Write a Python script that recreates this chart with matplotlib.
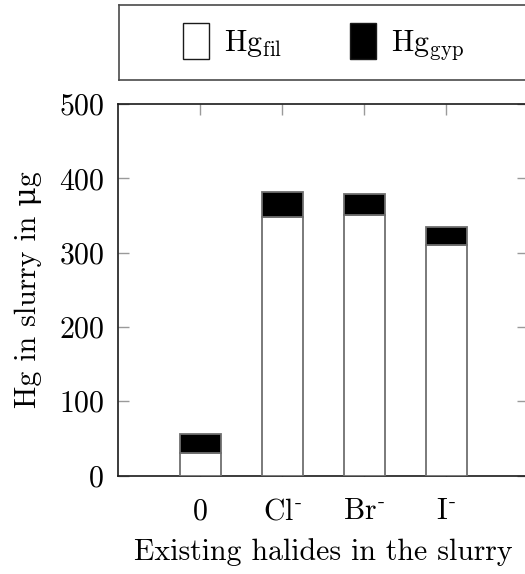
import matplotlib
matplotlib.use("Agg")
import matplotlib.pyplot as plt
from matplotlib.patches import Patch

plt.rcParams["font.family"] = ["cmr10", "DejaVu Serif"]
plt.rcParams["mathtext.fontset"] = "cm"
plt.rcParams["axes.unicode_minus"] = False
plt.rcParams["axes.formatter.use_mathtext"] = True

# Halide categories and mercury amounts (µg)
categories = ["0", r"Cl$^{\text{-}}$", r"Br$^{\text{-}}$", r"I$^{\text{-}}$"]
hg_fil = [30, 348, 351, 310]
hg_gyp = [26, 34, 28, 25]
y_ticks = [0, 100, 200, 300, 400, 500]

FS = 21.5
W, H = 525, 574
fig = plt.figure(figsize=(W / 100, H / 100), dpi=100)

def frac(x0, y0, x1, y1):
    return [x0 / W, 1 - y1 / H, (x1 - x0) / W, (y1 - y0) / H]

ax = fig.add_axes(frac(118, 104, 528, 475.5))
x = list(range(len(categories)))
edge = "#6f6f6f"
ax.bar(x, hg_fil, width=0.5, color="white", edgecolor=edge, linewidth=1.3, zorder=3)
ax.bar(x, hg_gyp, width=0.5, bottom=hg_fil, color="black", edgecolor=edge,
       linewidth=1.3, zorder=3)

ax.set_xlim(-1, 4)
ax.set_ylim(0, 500)
ax.set_yticks(y_ticks)
ax.set_xticks(x)
ax.set_xticklabels(categories)
for s in ax.spines.values():
    s.set_linewidth(1.2)
    s.set_color("#1a1a1a")
ax.tick_params(axis="both", direction="in", length=8, width=1.0, color="#9a9a9a",
               labelsize=FS, top=True, right=True)
ax.tick_params(axis="y", pad=10)
ax.tick_params(axis="x", pad=16)
ax.set_ylabel("Hg in slurry in \u03bcg", fontsize=FS, labelpad=12)
ax.set_xlabel("Existing halides in the slurry", fontsize=FS, labelpad=9)

# Legend panel above the plot
lax = fig.add_axes(frac(119, 5, 528, 80))
lax.set_xticks([])
lax.set_yticks([])
for s in lax.spines.values():
    s.set_linewidth(1.2)
    s.set_color("#4a4a4a")
handles = [
    Patch(facecolor="white", edgecolor="#1a1a1a", linewidth=1.0,
          label=r"Hg$_{\mathrm{fil}}$"),
    Patch(facecolor="black", edgecolor="#1a1a1a", linewidth=1.0,
          label=r"Hg$_{\mathrm{gyp}}$"),
]
lax.legend(handles=handles, loc="center", ncol=2, frameon=False, fontsize=FS,
           handlelength=0.85, handleheight=1.45, handletextpad=0.5,
           columnspacing=2.3, bbox_to_anchor=(0.5, 0.5))

fig.savefig("out.png", dpi=100)
